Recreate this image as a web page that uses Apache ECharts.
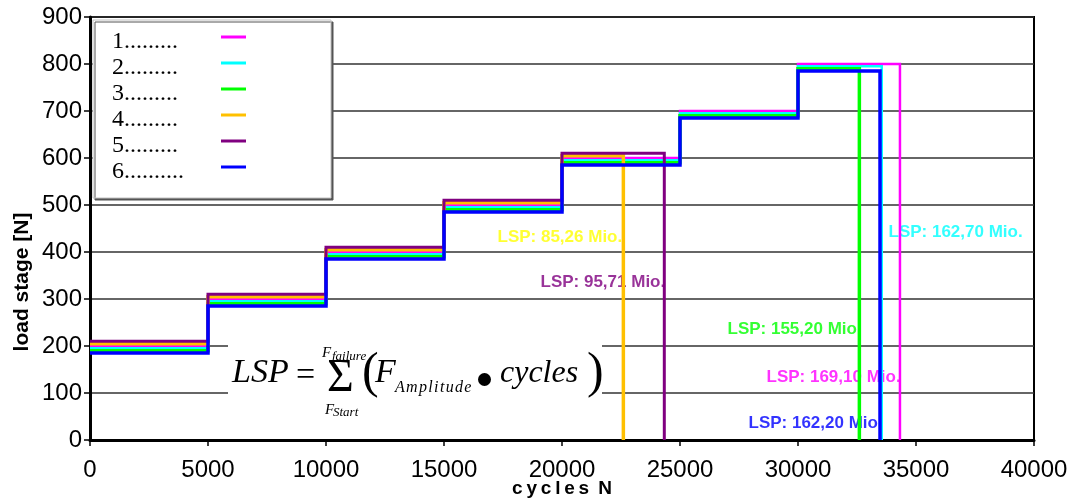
<!DOCTYPE html>
<html><head><meta charset="utf-8">
<script src="https://cdn.jsdelivr.net/npm/echarts@6/dist/echarts.min.js"></script>
<style>html,body{margin:0;padding:0;background:#fff}#c{width:1077px;height:499px}</style>
</head><body><div id="c"></div>
<script>
// ---- data ----
const stageStarts = [0, 5000, 10000, 15000, 20000, 25000, 30000];
const seriesNames = ['1.........', '2.........', '3.........', '4.........', '5.........', '6..........'];
const loads1 = [200, 300, 400, 500, 600, 700, 800];
const loads2 = [195, 295, 395, 495, 595, 695, 795];
const loads3 = [190, 290, 390, 490, 590, 690, 790];
const loads4 = [205, 305, 405, 505, 605];
const loads5 = [210, 310, 410, 510, 610];
const loads6 = [185, 285, 385, 485, 585, 685, 785];
const failureCycles = [34320, 33550, 32600, 22600, 24335, 33475];
const lspValues = ['169,10', '162,70', '155,20', '85,26', '95,71', '162,20'];
const xTickValues = [0, 5000, 10000, 15000, 20000, 25000, 30000, 35000, 40000];
const yTickValues = [0, 100, 200, 300, 400, 500, 600, 700, 800, 900];

// ---- styling ----
const lineColors = ['#FF00FF', '#00FFFF', '#00FF00', '#FFC000', '#800080', '#0000FF'];
const labelColors = ['#FF00FF', '#00FFFF', '#00FF00', '#FFFF00', '#800080', '#0000FF'];
const lineWidths = [2.5, 2.5, 3.5, 3.5, 3, 3.5];
// annotation anchor (left edge, vertical centre) in data units
const labelAnchors = [[28644, 134], [33814, 442.6], [26992, 236.2], [17246, 431.9], [19068, 336.2], [27881, 36.2]];

const allLoads = [loads1, loads2, loads3, loads4, loads5, loads6];

function stepPoints(loads, fail) {
  const pts = [];
  loads.forEach((v, i) => {
    const s = stageStarts[i];
    const e = i + 1 < stageStarts.length ? Math.min(stageStarts[i + 1], fail) : fail;
    pts.push([s, v], [e, v]);
  });
  pts.push([fail, 0]);
  return pts;
}

const series = allLoads.map((loads, k) => ({
  name: seriesNames[k],
  type: 'line',
  data: stepPoints(loads, failureCycles[k]),
  showSymbol: false,
  symbol: 'none',
  z: 3,
  color: lineColors[k],
  itemStyle: { color: lineColors[k] },
  lineStyle: { color: lineColors[k], width: lineWidths[k], cap: 'butt', join: 'miter' },
  animation: false
}));

series.push({
  name: 'annotations',
  type: 'scatter',
  z: 1,
  symbolSize: 1,
  itemStyle: { color: 'rgba(0,0,0,0)' },
  silent: true,
  animation: false,
  data: lspValues.map((v, k) => ({
    value: labelAnchors[k],
    label: {
      show: true, position: 'right', distance: 0,
      formatter: 'LSP: ' + v + ' Mio.',
      color: labelColors[k],
      fontFamily: 'Liberation Sans', fontWeight: 'bold', fontSize: 17
    }
  }))
});

const serif = '"Liberation Serif"';
function txt(text, x, y, font) {
  return { type: 'text', x: x, y: y, z: 60, silent: true,
    style: { text: text, font: font, fill: '#000', align: 'left', textAlign: 'left', verticalAlign: 'middle', textVerticalAlign: 'middle' } };
}

const chart = echarts.init(document.getElementById('c'), null, { renderer: 'canvas' });
chart.setOption({
  animation: false,
  backgroundColor: '#fff',
  grid: { left: 90, right: 43, top: 17, bottom: 59, containLabel: false, outerBoundsMode: 'none',
    show: true, borderColor: '#000', borderWidth: 2, backgroundColor: 'transparent' },
  xAxis: {
    type: 'value', min: xTickValues[0], max: xTickValues[xTickValues.length - 1], interval: xTickValues[1] - xTickValues[0],
    name: 'c\u2009y\u2009c\u2009l\u2009e\u2009s \u2009N', nameLocation: 'middle', nameGap: 39, nameMoveOverlap: false,
    nameTextStyle: { fontFamily: 'Liberation Sans', fontWeight: 'bold', fontSize: 19, color: '#000' },
    axisLine: { show: true, lineStyle: { color: '#000', width: 3 } },
    axisTick: { show: true, length: 6, lineStyle: { color: '#000', width: 1.5 } },
    axisLabel: { margin: 18, fontFamily: 'Liberation Sans', fontSize: 24, color: '#000', formatter: v => String(v) },
    splitLine: { show: false }
  },
  yAxis: {
    type: 'value', min: yTickValues[0], max: yTickValues[yTickValues.length - 1], interval: yTickValues[1] - yTickValues[0],
    axisLine: { show: true, lineStyle: { color: '#000', width: 3 } },
    axisTick: { show: true, length: 6, lineStyle: { color: '#000', width: 1.5 } },
    axisLabel: { margin: 8, fontFamily: 'Liberation Sans', fontSize: 24, color: '#000', formatter: v => String(v) },
    splitLine: { show: true, lineStyle: { color: '#333', width: 1.5 } }
  },
  legend: {
    data: seriesNames,
    orient: 'vertical', left: 93, top: 20, padding: [4, 85, 14, 19], itemGap: -4,
    align: 'right', icon: 'rect', itemWidth: 25, itemHeight: 3, selectedMode: false,
    backgroundColor: '#fff', borderColor: '#c0c0c0', borderWidth: 1,
    shadowColor: '#555', shadowOffsetX: 2, shadowOffsetY: 2, shadowBlur: 0,
    formatter: n => '{t|' + n + '}',
    textStyle: { rich: { t: { width: 104, height: 16, lineHeight: 16, align: 'left', fontFamily: 'Liberation Serif', fontSize: 24, color: '#000', padding: [10, 0, 0, 0] } } }
  },
  graphic: [
    { type: 'text', x: 22, y: 282, rotation: Math.PI / 2, z: 60, silent: true,
      style: { text: 'load stage [N]', font: 'bold 21px "Liberation Sans"', fill: '#000', align: 'center', textAlign: 'center', verticalAlign: 'middle', textVerticalAlign: 'middle' } },
    { type: 'rect', shape: { x: 228, y: 330, width: 374, height: 105 }, style: { fill: '#fff' }, z: 50, silent: true },
    txt('LSP', 232, 373.5, 'italic 34px ' + serif),
    txt('=', 296, 376, '34px ' + serif),
    txt('\u03A3', 327, 379, '46px ' + serif),
    txt('F', 322, 353, 'italic 15px ' + serif),
    txt('failure', 332, 357, 'italic 13px ' + serif),
    txt('F', 325, 410, 'italic 15px ' + serif),
    txt('Start', 333, 413, 'italic 13px ' + serif),
    txt('(', 362, 374, '50px ' + serif),
    txt('F', 375, 373.5, 'italic 34px ' + serif),
    txt('A\u200Am\u200Ap\u200Al\u200Ai\u200At\u200Au\u200Ad\u200Ae', 395, 388, 'italic 16px ' + serif),
    { type: 'circle', shape: { cx: 484.5, cy: 379.5, r: 6.5 }, style: { fill: '#000' }, z: 60, silent: true },
    txt('cycles', 500, 374, 'italic 32px ' + serif),
    txt(')', 587, 374, '50px ' + serif)
  ],
  series: series
});
</script></body></html>
